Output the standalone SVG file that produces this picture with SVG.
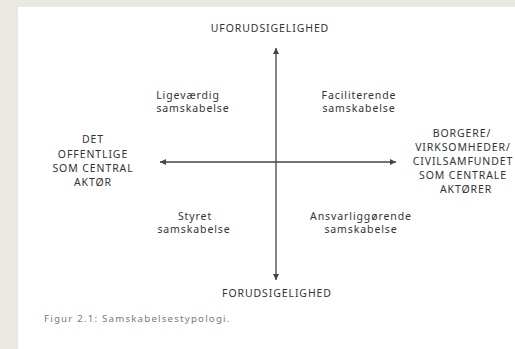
<svg xmlns="http://www.w3.org/2000/svg" width="515" height="349" viewBox="0 0 515 349">
<defs>
<style>
.t{font-family:"Noto Sans","Liberation Sans",sans-serif;font-size:10.5px;letter-spacing:0.9px;fill:#333;text-anchor:middle}
.cap{font-family:"Noto Sans","Liberation Sans",sans-serif;font-size:9.7px;letter-spacing:1.2px;fill:#7a7a7a}
.ax{stroke:#444;stroke-width:1.3;fill:none}
</style>
<marker id="ah" viewBox="0 0 10 10" refX="10" refY="5" markerWidth="6" markerHeight="6" markerUnits="userSpaceOnUse" orient="auto">
<path d="M0,0 L10,5 L0,10 z" fill="#444"/>
</marker>
</defs>
<rect x="0" y="0" width="515" height="349" fill="#e9e8e3"/>
<rect x="18" y="7" width="497" height="342" fill="#ffffff"/>
<g id="connectors">
<line class="ax" x1="276" y1="162" x2="276" y2="48" marker-end="url(#ah)"/>
<line class="ax" x1="276" y1="162" x2="276" y2="280" marker-end="url(#ah)"/>
<line class="ax" x1="276" y1="162" x2="160" y2="162" marker-end="url(#ah)"/>
<line class="ax" x1="276" y1="162" x2="396" y2="162" marker-end="url(#ah)"/>
</g>
<g id="top"><text class="t" x="270" y="32">UFORUDSIGELIGHED</text></g>
<g id="bottom"><text class="t" x="277" y="297">FORUDSIGELIGHED</text></g>
<g id="left"><text class="t" x="93"><tspan x="93" y="143">DET</tspan><tspan x="93" y="157.5">OFFENTLIGE</tspan><tspan x="93" y="172">SOM CENTRAL</tspan><tspan x="93" y="186">AKTØR</tspan></text></g>
<g id="right"><text class="t" x="463"><tspan x="462" y="137">BORGERE/</tspan><tspan x="463" y="151">VIRKSOMHEDER/</tspan><tspan x="463" y="165">CIVILSAMFUNDET</tspan><tspan x="463" y="179">SOM CENTRALE</tspan><tspan x="466" y="193">AKTØRER</tspan></text></g>
<g id="q1"><text class="t"><tspan x="188" y="99">Ligeværdig</tspan><tspan x="193" y="112">samskabelse</tspan></text></g>
<g id="q2"><text class="t"><tspan x="359" y="99">Faciliterende</tspan><tspan x="359" y="112">samskabelse</tspan></text></g>
<g id="q3"><text class="t"><tspan x="195" y="220">Styret</tspan><tspan x="194" y="233">samskabelse</tspan></text></g>
<g id="q4"><text class="t"><tspan x="361" y="220">Ansvarliggørende</tspan><tspan x="361" y="233">samskabelse</tspan></text></g>
<text class="cap" x="44" y="322">Figur 2.1: Samskabelsestypologi.</text>
</svg>
